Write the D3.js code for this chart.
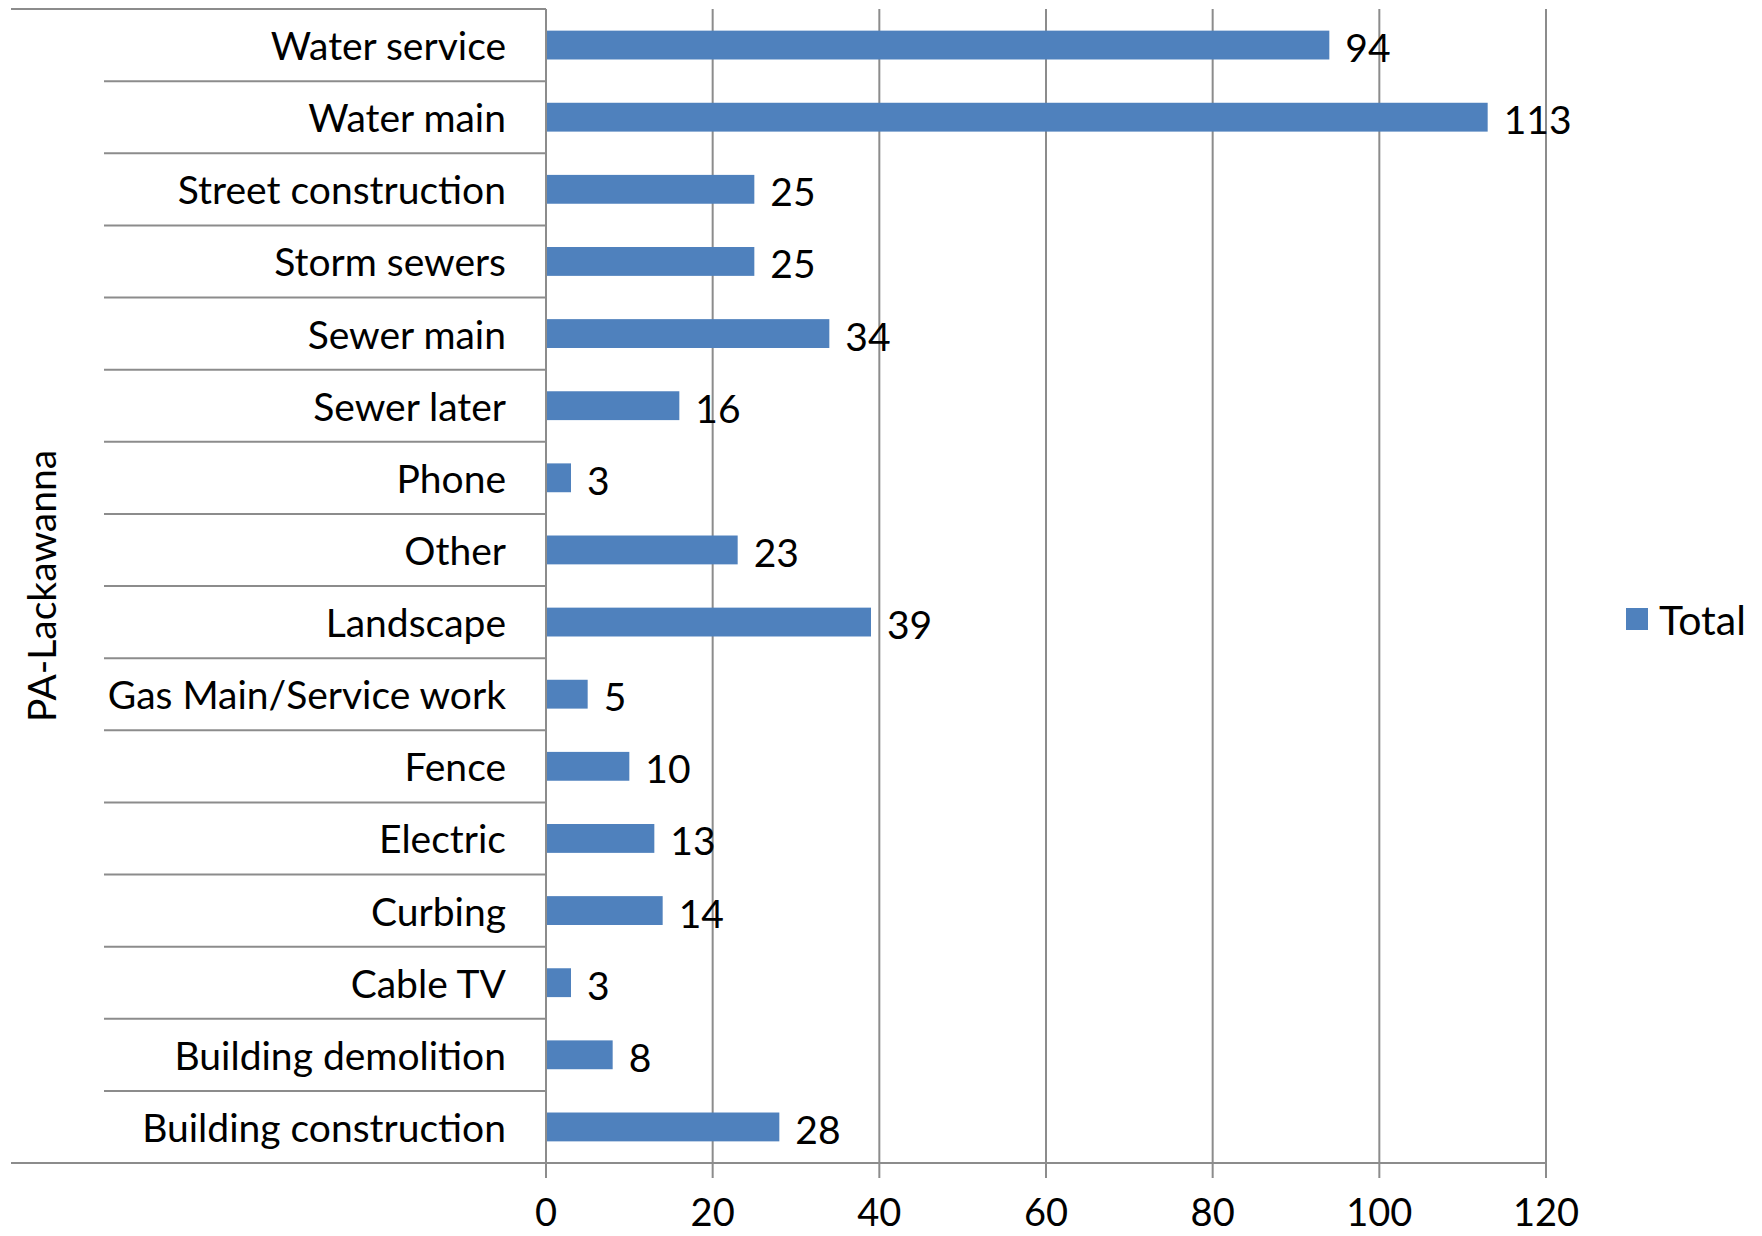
<!DOCTYPE html>
<html><head><meta charset="utf-8">
<script src="https://cdn.jsdelivr.net/npm/d3@7"></script>
<style>html,body{margin:0;padding:0;background:#fff;} svg{display:block;}</style>
</head><body>
<script>
const categories = ["Water service","Water main","Street construction","Storm sewers","Sewer main","Sewer later","Phone","Other","Landscape","Gas Main/Service work","Fence","Electric","Curbing","Cable TV","Building demolition","Building construction"];
const totals = [94,113,25,25,34,16,3,23,39,5,10,13,14,3,8,28];
const xTicks = [0,20,40,60,80,100,120];
const groupLabel = "PA-Lackawanna";
const seriesName = "Total";

const W = 1762, H = 1236;
const FONT = "Lato, 'Open Sans', sans-serif";
const FS = 39;
const svg = d3.select("body").append("svg").attr("width", W).attr("height", H);

const x0 = 546, x1 = 1546, yTop = 9, yBot = 1163;
const x = d3.scaleLinear().domain([0,120]).range([x0,x1]);
const y = d3.scaleBand().domain(categories).range([yTop,yBot]).paddingInner(0.6).paddingOuter(0.3);
const step = y.step();

const grid = "#8c8c8c";

// gridlines + ticks
svg.append("g").selectAll("line").data(xTicks).join("line")
  .attr("x1", d => x(d)).attr("x2", d => x(d))
  .attr("y1", yTop).attr("y2", yBot + 15)
  .attr("stroke", grid).attr("stroke-width", 2);

// category separators
const seps = categories.slice(1);
svg.append("g").selectAll("line").data(seps).join("line")
  .attr("x1", 104).attr("x2", x0)
  .attr("y1", d => y(d) - (step*0.3)).attr("y2", d => y(d) - (step*0.3))
  .attr("stroke", grid).attr("stroke-width", 2);

// top and bottom outer lines
svg.append("line").attr("x1", 11).attr("x2", x0).attr("y1", yTop).attr("y2", yTop).attr("stroke", grid).attr("stroke-width", 2);
svg.append("line").attr("x1", 11).attr("x2", x1).attr("y1", yBot).attr("y2", yBot).attr("stroke", grid).attr("stroke-width", 2);

// bars
svg.append("g").selectAll("rect").data(categories).join("rect")
  .attr("x", x(0)).attr("y", d => y(d))
  .attr("width", (d,i) => x(totals[i]) - x(0))
  .attr("height", y.bandwidth())
  .attr("fill", "#4f81bd");

// value labels
svg.append("g").selectAll("text").data(categories).join("text")
  .attr("x", (d,i) => x(totals[i]) + 16)
  .attr("y", d => y(d) + y.bandwidth()/2 + 2)
  .attr("dominant-baseline", "central")
  .attr("font-family", FONT).attr("font-size", FS).attr("fill", "#000")
  .text((d,i) => totals[i]);

// category labels
svg.append("g").selectAll("text").data(categories).join("text")
  .attr("x", 506).attr("y", d => y(d) + y.bandwidth()/2)
  .attr("text-anchor", "end").attr("dominant-baseline", "central")
  .attr("font-family", FONT).attr("font-size", FS).attr("fill", "#000")
  .text(d => d);

// vertical axis
svg.append("line").attr("x1", x0).attr("x2", x0).attr("y1", yTop).attr("y2", yBot + 15).attr("stroke", grid).attr("stroke-width", 2);

// x tick labels
svg.append("g").selectAll("text").data(xTicks).join("text")
  .attr("x", d => x(d)).attr("y", 1211)
  .attr("text-anchor", "middle").attr("dominant-baseline", "central")
  .attr("font-family", FONT).attr("font-size", 38).attr("fill", "#000")
  .text(d => d);

// group label
svg.append("text")
  .attr("transform", `translate(41,${(yTop+yBot)/2}) rotate(-90)`)
  .attr("text-anchor", "middle").attr("dominant-baseline", "central")
  .attr("font-family", FONT).attr("font-size", FS).attr("fill", "#000")
  .text(groupLabel);

// legend
svg.append("rect").attr("x", 1626).attr("y", 608).attr("width", 22).attr("height", 22).attr("fill", "#4f81bd");
svg.append("text").attr("x", 1659).attr("y", 619).attr("dominant-baseline", "central")
  .attr("font-family", FONT).attr("font-size", 41).attr("fill", "#000").text(seriesName);
</script>
</body></html>
